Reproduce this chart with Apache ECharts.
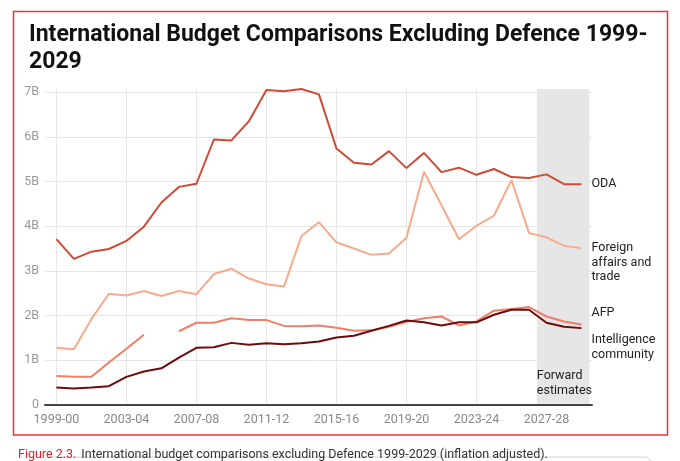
<!DOCTYPE html>
<html>
<head>
<meta charset="utf-8">
<title>International Budget Comparisons Excluding Defence</title>
<script src="https://cdn.jsdelivr.net/npm/echarts@6.0.0/dist/echarts.min.js"></script>
<style>
  html, body { margin: 0; padding: 0; background: #fff; }
  #chart { width: 680px; height: 461px; }
</style>
</head>
<body>
<div id="chart"></div>
<script>
'use strict';

// financial years on the x axis
var years = ['1999-00', '2000-01', '2001-02', '2002-03', '2003-04', '2004-05', '2005-06', '2006-07',
  '2007-08', '2008-09', '2009-10', '2010-11', '2011-12', '2012-13', '2013-14', '2014-15',
  '2015-16', '2016-17', '2017-18', '2018-19', '2019-20', '2020-21', '2021-22', '2022-23',
  '2023-24', '2024-25', '2025-26', '2026-27', '2027-28', '2028-29', '2029-30'];
var tickYears = ['1999-00', '2003-04', '2007-08', '2011-12', '2015-16', '2019-20', '2023-24', '2027-28'];
var yTicks = [0, 1, 2, 3, 4, 5, 6, 7];

// billions, inflation adjusted
var oda = [3.71, 3.27, 3.43, 3.49, 3.67, 3.99, 4.53, 4.88, 4.95, 5.94, 5.92, 6.35, 7.05, 7.02, 7.07, 6.95,
  5.74, 5.42, 5.38, 5.68, 5.30, 5.64, 5.21, 5.31, 5.15, 5.28, 5.10, 5.08, 5.16, 4.94, 4.94];
var foreignAffairs = [1.28, 1.25, 1.92, 2.49, 2.45, 2.55, 2.44, 2.55, 2.48, 2.93, 3.05, 2.83, 2.70, 2.65, 3.78, 4.09,
  3.64, 3.50, 3.36, 3.39, 3.74, 5.22, 4.47, 3.71, 4.01, 4.24, 5.03, 3.85, 3.75, 3.56, 3.51];
var afp = [0.65, 0.63, 0.63, 0.95, 1.26, 1.57, null, 1.65, 1.84, 1.84, 1.94, 1.90, 1.90, 1.77, 1.76, 1.78,
  1.73, 1.66, 1.67, 1.75, 1.86, 1.94, 1.98, 1.78, 1.87, 2.11, 2.15, 2.19, 1.98, 1.87, 1.80];
var intelligence = [0.39, 0.37, 0.39, 0.42, 0.63, 0.75, 0.82, 1.06, 1.28, 1.29, 1.39, 1.35, 1.38, 1.36, 1.38, 1.42,
  1.51, 1.55, 1.66, 1.77, 1.89, 1.85, 1.78, 1.85, 1.85, 2.02, 2.13, 2.13, 1.84, 1.75, 1.72];

// forward estimates start half way between 2026-27 and 2027-28
var forwardFrom = years.indexOf('2027-28') - 0.55;
var forwardTo = years.length - 0.55;

var tickIdx = tickYears.map(function (y) { return years.indexOf(y); });

function pairs(arr) {
  return arr.map(function (v, i) { return [i, v == null ? '-' : v]; });
}

var FONT = 'Roboto, "Noto Sans", sans-serif';

function lineSeries(name, data, color, label, dy) {
  return {
    name: name,
    type: 'line',
    data: pairs(data),
    symbol: 'none',
    lineStyle: { color: color, width: 2 },
    itemStyle: { color: color },
    z: 3,
    endLabel: {
      show: true,
      formatter: label,
      color: '#222',
      fontFamily: FONT,
      fontSize: 12.5,
      lineHeight: 14.7,
      distance: 10,
      offset: [0, dy],
    },
  };
}

var myChart = echarts.init(document.getElementById('chart'), null, { renderer: 'canvas' });
myChart.setOption({
  animation: false,
  backgroundColor: '#fff',
  title: [{
    text: 'International Budget Comparisons Excluding Defence 1999-\n2029',
    left: 24,
    top: 17,
    textStyle: {
      fontFamily: FONT,
      fontWeight: 'bold',
      fontSize: 23,
      lineHeight: 27,
      color: '#111',
    },
  }, {
    text: '{a|Figure 2.3.} {b|International budget comparisons excluding Defence 1999-2029 (inflation adjusted).}',
    left: 13,
    top: 441,
    textStyle: {
      fontWeight: 'normal',
      rich: {
        a: { color: '#e3202a', fontFamily: FONT, fontSize: 12.5, fontWeight: 'normal' },
        b: { color: '#333', fontFamily: FONT, fontSize: 12.5, fontWeight: 'normal' },
      },
    },
  }],
  graphic: [{
    type: 'rect',
    shape: { x: 13.5, y: 11.5, width: 654, height: 423.5 },
    style: { fill: 'none', stroke: '#e8343c', lineWidth: 1.5 },
    silent: true,
  }, {
    type: 'rect',
    shape: { x: 44, y: 457, width: 607, height: 30, r: 6 },
    style: { fill: 'none', stroke: '#d0d0d0', lineWidth: 1 },
    silent: true,
  }],
  grid: {
    left: 45,
    right: 88,
    top: 89,
    bottom: 56,
  },
  xAxis: {
    type: 'value',
    min: -0.65,
    max: 30.6,
    axisLine: { show: true, onZero: false, lineStyle: { color: '#444', width: 2 } },
    axisTick: { show: false, customValues: tickIdx },
    axisLabel: {
      customValues: tickIdx,
      formatter: function (v) { return years[v]; },
      color: '#888',
      fontFamily: FONT,
      fontSize: 12.5,
      margin: 8,
    },
    splitLine: { show: true, lineStyle: { color: '#e6e6e6', width: 1 } },
  },
  yAxis: {
    type: 'value',
    min: 0,
    max: 7.07,
    interval: 1,
    axisLine: { show: false },
    axisTick: { show: false },
    axisLabel: {
      showMaxLabel: false,
      formatter: function (v) {
        if (yTicks.indexOf(v) < 0) return '';
        return v === 0 ? '0' : v + 'B';
      },
      color: '#999',
      fontFamily: FONT,
      fontSize: 12.5,
      margin: 6,
    },
    splitLine: { show: true, showMaxLine: false, lineStyle: { color: '#e6e6e6', width: 1 } },
  },
  series: [{
    name: 'Forward estimates',
    type: 'line',
    data: [],
    z: 2,
    markArea: {
      silent: true,
      itemStyle: { color: '#e6e6e6' },
      label: {
        show: true,
        position: 'insideBottomLeft',
        distance: 0,
        offset: [0, -6],
        formatter: 'Forward\nestimates',
        color: '#222',
        fontFamily: FONT,
        fontSize: 12.5,
        lineHeight: 14.5,
      },
      data: [[{ xAxis: forwardFrom, yAxis: 0.03 }, { xAxis: forwardTo, yAxis: 7.07 }]],
    },
  },
    lineSeries('ODA', oda, '#cd4b35', 'ODA', 0),
    lineSeries('Foreign affairs and trade', foreignAffairs, '#f7aa8c', 'Foreign\naffairs and\ntrade', 14.5),
    lineSeries('AFP', afp, '#ef7f67', 'AFP', -12),
    lineSeries('Intelligence community', intelligence, '#6e0b0b', 'Intelligence\ncommunity', 19),
  ],
});
</script>
</body>
</html>
